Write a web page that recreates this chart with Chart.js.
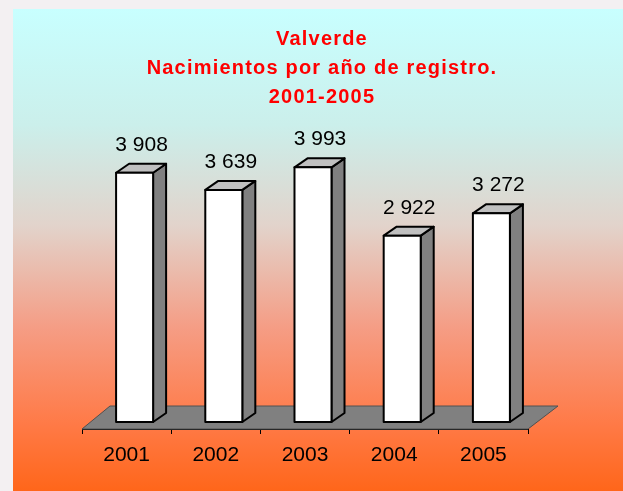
<!DOCTYPE html>
<html>
<head>
<meta charset="utf-8">
<script src="https://cdn.jsdelivr.net/npm/chart.js@4"></script>
<style>
  html, body { margin: 0; padding: 0; background: #f3f0f2; }
  #wrap { width: 623px; height: 491px; position: relative; }
</style>
</head>
<body>
<div id="wrap"><canvas id="births" width="623" height="491"></canvas></div>
<script>
const years = ["2001", "2002", "2003", "2004", "2005"];
const births = [3908, 3639, 3993, 2922, 3272];
const titleLines = ["Valverde", "Nacimientos por año de registro.", "2001-2005"];

const fmt = v => String(v).replace(/\B(?=(\d{3})+(?!\d))/g, " ");

// background panel, title, floor and 3d bars
const excel3d = {
    id: "excel3d",
    beforeDraw(chart) {
        const ctx = chart.ctx;
        const g = ctx.createLinearGradient(0, 9, 0, 491);
        g.addColorStop(0, "#c8ffff");
        g.addColorStop(0.24, "#cbefeb");
        g.addColorStop(0.45, "#e2d3cb");
        g.addColorStop(0.66, "#f59d85");
        g.addColorStop(0.86, "#ff7a47");
        g.addColorStop(1, "#ff661a");
        ctx.save();
        ctx.fillStyle = g;
        ctx.fillRect(13, 9, 610, 482);

        ctx.fillStyle = "#ff0000";
        ctx.font = "bold 20px Arial, 'Liberation Sans', sans-serif";
        ctx.textAlign = "center";
        ctx.textBaseline = "alphabetic";
        ctx.letterSpacing = "1.2px";
        titleLines.forEach((t, i) => ctx.fillText(t, 322, 45 + i * 29));
        ctx.restore();
    },
    afterDatasetsDraw(chart) {
        const ctx = chart.ctx;
        const area = chart.chartArea;
        const ddx = 28, ddy = -23;   // floor depth
        const bdx = 13, bdy = -9;    // bar depth
        const sx = 8, sy = -7;       // bar placement inside floor

        ctx.save();
        // floor
        ctx.beginPath();
        ctx.moveTo(area.left, area.bottom);
        ctx.lineTo(area.left + ddx, area.bottom + ddy);
        ctx.lineTo(area.right + ddx + 2, area.bottom + ddy);
        ctx.lineTo(area.right, area.bottom);
        ctx.closePath();
        ctx.fillStyle = "#808080";
        ctx.fill();
        ctx.strokeStyle = "#505050";
        ctx.lineWidth = 1;
        ctx.stroke();

        const meta = chart.getDatasetMeta(0);
        ctx.lineWidth = 2;
        ctx.strokeStyle = "#000";
        ctx.lineJoin = "round";
        meta.data.forEach((el, i) => {
            const w = el.width;
            const x0 = el.x - w / 2 + sx, x1 = x0 + w;
            const top = el.y + sy, base = el.base + sy;

            // side
            ctx.beginPath();
            ctx.moveTo(x1, base);
            ctx.lineTo(x1 + bdx, base + bdy);
            ctx.lineTo(x1 + bdx, top + bdy);
            ctx.lineTo(x1, top);
            ctx.closePath();
            ctx.fillStyle = "#808080";
            ctx.fill();
            ctx.stroke();

            // top
            ctx.beginPath();
            ctx.moveTo(x0, top);
            ctx.lineTo(x0 + bdx, top + bdy);
            ctx.lineTo(x1 + bdx, top + bdy);
            ctx.lineTo(x1, top);
            ctx.closePath();
            ctx.fillStyle = "#c0c0c0";
            ctx.fill();
            ctx.stroke();

            // front
            ctx.fillStyle = "#ffffff";
            ctx.fillRect(x0, top, w, base - top);
            ctx.strokeRect(x0, top, w, base - top);

            // value label
            ctx.fillStyle = "#000";
            ctx.font = "21px Arial, 'Liberation Sans', sans-serif";
            ctx.textAlign = "center";
            ctx.textBaseline = "alphabetic";
            ctx.fillText(fmt(births[i]), x0 + w / 2 + 7, top - 22);
        });
        ctx.restore();
    }
};

new Chart(document.getElementById("births"), {
    type: "bar",
    data: {
        labels: years,
        datasets: [{
            data: births,
            backgroundColor: "rgba(0,0,0,0)",
            borderWidth: 0,
            barPercentage: 0.415,
            categoryPercentage: 1
        }]
    },
    options: {
        responsive: false,
        animation: false,
        layout: { padding: { left: 82, right: 95, top: 142, bottom: 0 } },
        plugins: {
            legend: { display: false },
            title: { display: false },
            tooltip: { enabled: false }
        },
        scales: {
            x: {
                afterFit: s => { s.height = 62; },
                grid: { drawOnChartArea: false, color: "#000", tickLength: 5, offset: true },
                border: { color: "#000", width: 1 },
                ticks: { color: "#000", font: { family: "Arial, 'Liberation Sans', sans-serif", size: 21 }, padding: 9 }
            },
            y: {
                display: false,
                min: 0,
                max: 4500
            }
        }
    },
    plugins: [excel3d]
});
</script>
</body>
</html>
